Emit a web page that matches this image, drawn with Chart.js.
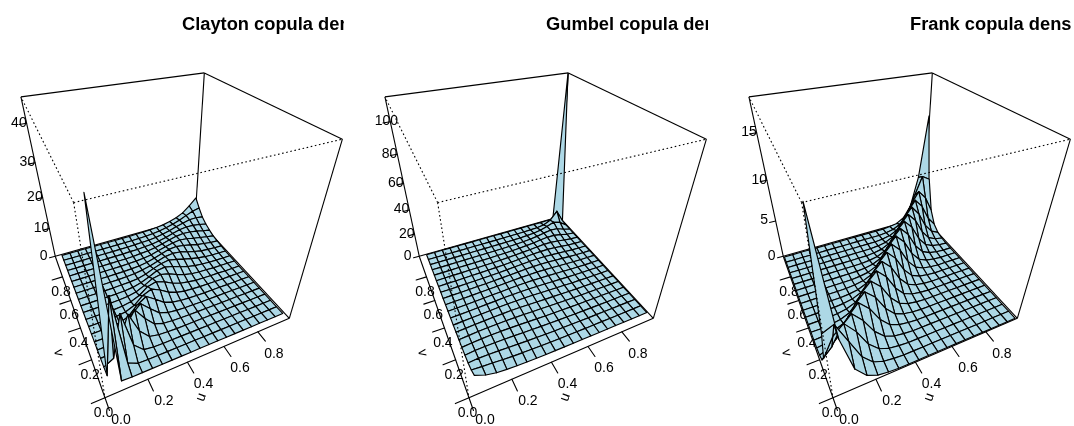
<!DOCTYPE html>
<html><head><meta charset="utf-8">
<style>html,body{margin:0;padding:0;background:#fff;width:1074px;height:426px;overflow:hidden}
canvas{position:absolute;top:0;display:block}</style>
<script src="https://cdn.jsdelivr.net/npm/chart.js@4/dist/chart.umd.js"></script>
</head><body>
<canvas id="c0" width="344" height="426" style="left:0"></canvas>
<canvas id="c1" width="344" height="426" style="left:364px"></canvas>
<canvas id="c2" width="344" height="426" style="left:728px"></canvas>
<script>
const titles=["Clayton copula den","Gumbel copula den","Frank copula dens"];
const axisTicks=[0,0.2,0.4,0.6,0.8];
const claytonGrid=[.04,.09,.14,.19,.24,.29,.34,.39,.44,.49,.54,.59,.64,.69,.74,.79,.84,.89,.94,.99];
const gumbelGrid=[.045,.095,.145,.195,.245,.295,.345,.395,.445,.495,.545,.595,.645,.695,.745,.795,.845,.895,.945,.995];
const frankGrid=[.005,.057,.109,.161,.212,.264,.316,.368,.42,.472,.523,.575,.627,.679,.731,.783,.835,.886,.938,.99];
const claytonZTicks=[0,10,20,30,40];
const gumbelZTicks=[0,20,40,60,80,100];
const frankZTicks=[0,5,10,15];
const claytonZMax=46,gumbelZMax=114,frankZMax=18.3;
// lower triangle of each symmetric density surface: row j holds v=grid[j], u=grid[0..j]
const claytonZ=[
[46],
[.2,23],
[0,1.7,14.7],
[0,.1,3.5,10.8],
[0,0,.5,4.2,8.6],
[0,0,.1,1,4.6,7.1],
[0,0,0,.3,1.5,4.3,6.1],
[0,0,0,.1,.5,1.7,4.1,5.3],
[0,0,0,0,.2,.7,1.9,4,4.7],
[0,0,0,0,.1,.3,.9,2.2,3.7,4.2],
[0,0,0,0,0,.1,.4,1.1,2.2,3.5,3.9],
[0,0,0,0,0,.1,.2,.5,1.2,2.3,3.2,3.6],
[0,0,0,0,0,0,.1,.3,.7,1.3,2.2,3,3.3],
[0,0,0,0,0,0,0,.1,.3,.7,1.4,2.2,3,3.2],
[0,0,0,0,0,0,0,.1,.2,.4,.8,1.5,2.2,2.8,3.1],
[0,0,0,0,0,0,0,0,.1,.3,.5,.9,1.5,2.2,2.8,3.1],
[0,0,0,0,0,0,0,0,.1,.1,.3,.5,.9,1.5,2.2,2.9,3.2],
[0,0,0,0,0,0,0,0,0,.1,.2,.3,.6,1.1,1.7,2.5,3.1,3.7],
[0,0,0,0,0,0,0,0,0,0,.1,.2,.4,.7,1.2,1.9,2.7,3.8,4.8],
[0,0,0,0,0,0,0,0,0,0,.1,.1,.3,.5,.8,1.4,2.2,3.4,5.4,7.8]];
const gumbelZ=[
[8],
[4.4,3.6],
[2.5,3,2.9],
[1.7,2.3,2.5,2.5],
[1.2,1.7,2.1,2.3,2.3],
[.8,1.3,1.7,2,2.1,2.2],
[.6,1,1.3,1.6,1.9,2,2.1],
[.4,.7,1,1.3,1.6,1.8,2,2],
[.3,.5,.7,1,1.3,1.5,1.8,2,2],
[.2,.4,.5,.8,1,1.3,1.5,1.8,2,2.1],
[.1,.3,.4,.6,.8,1,1.2,1.5,1.8,2,2.1],
[.1,.2,.3,.4,.6,.7,1,1.2,1.5,1.8,2.1,2.3],
[.1,.1,.2,.3,.4,.5,.7,.9,1.2,1.6,1.9,2.2,2.4],
[0,.1,.1,.2,.3,.4,.5,.7,.9,1.2,1.6,2,2.4,2.6],
[0,.1,.1,.1,.2,.2,.3,.4,.6,.9,1.2,1.6,2,2.6,3],
[0,0,0,.1,.1,.1,.2,.3,.4,.5,.8,1.1,1.5,2.1,2.9,3.5],
[0,0,0,0,.1,.1,.1,.1,.2,.3,.4,.6,.9,1.4,2.2,3.4,4.4],
[0,0,0,0,0,.1,.1,.1,.1,.1,.2,.3,.4,.7,1.2,2.2,3.9,6.2],
[0,0,0,0,0,0,0,0,0,0,.1,.1,.1,.2,.4,.7,1.6,4.3,11.3],
[0,0,0,0,0,0,0,0,0,0,0,0,0,0,0,0,0,.1,.4,114]];
const frankZ=[
[18.3],
[6.6,7.1],
[2.4,4.6,5.6],
[.9,2.1,4.1,5.2],
[.3,.8,2,3.9,5.1],
[.1,.3,.8,2,3.9,5],
[0,.1,.3,.8,2,3.9,5],
[0,0,.1,.3,.8,2,3.9,5],
[0,0,0,.1,.3,.8,2,3.9,5],
[0,0,0,0,.1,.3,.8,2,3.9,5],
[0,0,0,0,0,.1,.3,.8,2,3.9,5],
[0,0,0,0,0,0,.1,.3,.8,2,3.9,5],
[0,0,0,0,0,0,0,.1,.3,.8,2,3.9,5],
[0,0,0,0,0,0,0,0,.1,.3,.8,2,3.9,5],
[0,0,0,0,0,0,0,0,0,.1,.3,.8,2,3.9,5],
[0,0,0,0,0,0,0,0,0,0,.1,.3,.8,2,3.9,5.1],
[0,0,0,0,0,0,0,0,0,0,0,.1,.3,.8,2,3.9,5.2],
[0,0,0,0,0,0,0,0,0,0,0,0,.1,.3,.8,2,4.1,5.6],
[0,0,0,0,0,0,0,0,0,0,0,0,0,.1,.3,.8,2.1,4.5,6.9],
[0,0,0,0,0,0,0,0,0,0,0,0,0,0,.1,.3,.9,2.4,6.3,13.8]];

const panels=[
 {id:'c0',title:titles[0],grid:claytonGrid,rows:claytonZ,zMax:claytonZMax,zTicks:claytonZTicks},
 {id:'c1',title:titles[1],grid:gumbelGrid,rows:gumbelZ,zMax:gumbelZMax,zTicks:gumbelZTicks},
 {id:'c2',title:titles[2],grid:frankGrid,rows:frankZ,zMax:frankZMax,zTicks:frankZTicks}];

// R persp() viewing transform
const theta=25*Math.PI/180,phi=35*Math.PI/180,dist=Math.sqrt(3)+2;
const focal=376,cx=161.5,cy=212.9,W=344,H=426;
function project(u,v,z,zMax){
  const X=2*u-1,Y=2*v-1,Z=2*z/zMax-1,c=Math.cos(theta),s=Math.sin(theta),cp=Math.cos(phi),sp=Math.sin(phi);
  const xe=X*c-Y*s,t=-Y*c-X*s,ye=Z*cp-t*sp,w=t*cp+Z*sp;
  return {x:xe/(dist-w),y:ye/(dist-w)};
}
const FONT='"Liberation Sans", Arial, sans-serif';
function line(pts,o){return Object.assign({data:pts,showLine:true,pointRadius:0,pointHoverRadius:0,borderColor:'#000',borderWidth:1.1,fill:false,tension:0,borderJoinStyle:'round',borderCapStyle:'round'},o||{});}

function build(p){
  const n=p.grid.length,m=p.zMax,P=(u,v,z)=>project(u,v,z,m);
  const Zat=(i,j)=>i>=j?p.rows[i][j]:p.rows[j][i];
  const layers=[];
  const edge=(a,b,o)=>layers.push(line([P(...a),P(...b)],o));
  // back of the box
  [[[0,1,0],[0,1,m]],[[1,0,0],[1,0,m]],[[1,1,0],[1,1,m]],[[0,1,m],[1,1,m]],[[1,1,m],[1,0,m]],
   [[0,0,0],[1,0,0]],[[0,0,0],[0,1,0]],[[0,1,0],[1,1,0]],[[1,0,0],[1,1,0]]].forEach(e=>edge(e[0],e[1],{borderCapStyle:'butt'}));
  // tick marks
  axisTicks.forEach(t=>{
    edge([t,0,0],[t,-.06,0]);
    edge([0,t,0],[-.06,t,0]);
  });
  p.zTicks.forEach(t=>edge([0,1,t],[-.035,1,t]));
  // surface, far cells first
  for(let i=n-2;i>=0;i--)for(let j=n-2;j>=0;j--){
    const g=p.grid;
    const q=[P(g[i],g[j],Zat(i,j)),P(g[i+1],g[j],Zat(i+1,j)),P(g[i+1],g[j+1],Zat(i+1,j+1)),P(g[i],g[j+1],Zat(i,j+1))];
    q.push(q[0]);
    layers.push(line(q,{fill:'shape',backgroundColor:'#ADD8E6',borderWidth:1.15}));
  }
  // hidden edges, dotted
  const dot={borderDash:[1.6,2.6],borderWidth:1.1,borderCapStyle:'butt'};
  edge([0,0,m],[0,0,0],dot);edge([0,0,m],[1,0,m],dot);edge([0,0,m],[0,1,m],dot);
  return layers.reverse();
}

const textPlugin={id:'perspText',beforeDatasetsDraw(chart,args,opts){
  const ctx=chart.ctx,sx=chart.scales.x,sy=chart.scales.y,p=opts.panel,m=p.zMax;
  const at=(u,v,z)=>{const q=project(u,v,z,m);return [sx.getPixelForValue(q.x),sy.getPixelForValue(q.y)];};
  ctx.save();ctx.fillStyle='#000';ctx.textBaseline='middle';
  ctx.font='bold 18.3px '+FONT;ctx.textAlign='left';ctx.fillText(p.title,182,25);
  ctx.font='14px '+FONT;ctx.textAlign='center';
  axisTicks.forEach(t=>{
    let a=at(t,0,0);ctx.fillText(t.toFixed(1),a[0]+16,a[1]+22);
    a=at(0,t,0);ctx.fillText(t.toFixed(1),a[0]-1.5,a[1]+15);
  });
  let a=at(.5,0,0);ctx.save();ctx.translate(a[0]-5,a[1]+43);ctx.rotate(-70*Math.PI/180);ctx.fillText('u',0,0);ctx.restore();
  a=at(0,.5,0);ctx.save();ctx.translate(a[0]-17,a[1]+39);ctx.rotate(80*Math.PI/180);ctx.fillText('v',0,0);ctx.restore();
  ctx.textAlign='left';
  p.zTicks.forEach(t=>{const a=at(0,1,t);ctx.fillText(String(t),a[0]-15.5,a[1]-.5);});
  ctx.restore();
}};

panels.forEach(p=>{
  new Chart(document.getElementById(p.id),{
    type:'scatter',
    data:{datasets:build(p)},
    plugins:[textPlugin],
    options:{
      responsive:false,animation:false,events:[],
      layout:{padding:0},
      scales:{
        x:{type:'linear',display:false,min:-cx/focal,max:(W-cx)/focal},
        y:{type:'linear',display:false,min:-(H-cy)/focal,max:cy/focal}
      },
      plugins:{legend:{display:false},tooltip:{enabled:false},title:{display:false},perspText:{panel:p}}
    }
  });
});
</script>
</body></html>
